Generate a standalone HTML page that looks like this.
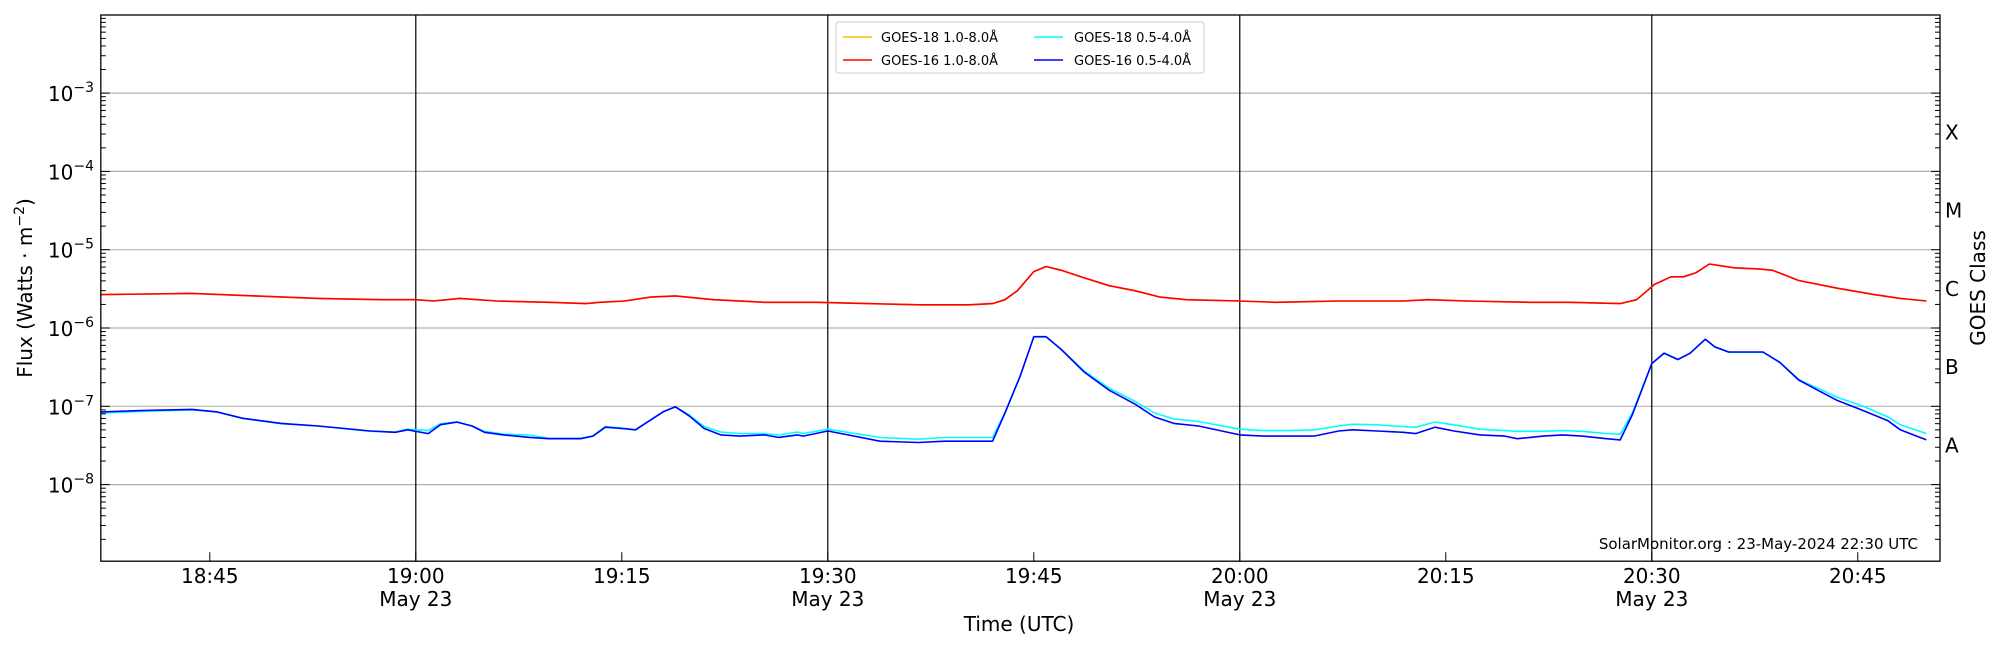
<!DOCTYPE html>
<html><head><meta charset="utf-8"><style>
html,body{margin:0;padding:0;background:#fff;}
svg{display:block;font-family:"DejaVu Sans","Liberation Sans",sans-serif;}
</style></head><body>
<svg id="chart" width="2000" height="650" viewBox="0 0 2000 650" xmlns="http://www.w3.org/2000/svg">
<rect x="0" y="0" width="2000" height="650" fill="#fff"/>
<g id="grid"></g>
<g id="series"></g>
<g id="axes"></g>
<g id="legend">
  <rect x="836" y="22" width="368" height="51" rx="3" fill="#fff" fill-opacity="0.8" stroke="#ccc"/>
  <line x1="843" y1="37" x2="872" y2="37" stroke="#ffc000" stroke-width="1.5"/>
  <text x="881" y="42" font-size="13">GOES-18 1.0-8.0Å</text>
  <line x1="843" y1="60" x2="872" y2="60" stroke="#ff0000" stroke-width="1.5"/>
  <text x="881" y="65" font-size="13">GOES-16 1.0-8.0Å</text>
  <line x1="1034" y1="37" x2="1063" y2="37" stroke="#00ffff" stroke-width="1.5"/>
  <text x="1074" y="42" font-size="13">GOES-18 0.5-4.0Å</text>
  <line x1="1034" y1="60" x2="1063" y2="60" stroke="#0000ff" stroke-width="1.5"/>
  <text x="1074" y="65" font-size="13">GOES-16 0.5-4.0Å</text>
</g>
<text x="1918" y="549" font-size="15" text-anchor="end">SolarMonitor.org : 23-May-2024 22:30 UTC</text>
<text x="1019" y="631" font-size="20" text-anchor="middle">Time (UTC)</text>
<text transform="translate(32,288) rotate(-90)" font-size="20" text-anchor="middle">Flux (Watts · m<tspan dy="-8" font-size="14">−2</tspan><tspan dy="8">)</tspan></text>
<text transform="translate(1985,288) rotate(-90)" font-size="20" text-anchor="middle">GOES Class</text>
</svg>
<script>
// minutes relative to 19:00 UTC
const redTimes = [-22.9,-16.3,-11.7,-7.1,-2.4,0,1.3,3.2,5.9,9.7,12.4,13.4,15.2,17.1,18.9,21.7,25.4,29.2,32.9,36.6,40.3,42.0,42.9,43.8,45.0,45.9,47.0,48.7,50.5,52.4,54.2,56.1,60,62.6,67.2,71.9,73.7,76.5,81.2,84.0,87.7,88.9,90.2,91.4,92.3,93.2,94.2,96.0,97.9,98.8,100.7,103.5,106.2,108.1,110.0];
const goes16Long = [2.67e-6,2.77e-6,2.57e-6,2.39e-6,2.30e-6,2.30e-6,2.21e-6,2.39e-6,2.21e-6,2.13e-6,2.05e-6,2.13e-6,2.21e-6,2.48e-6,2.57e-6,2.30e-6,2.13e-6,2.13e-6,2.05e-6,1.98e-6,1.98e-6,2.05e-6,2.30e-6,2.99e-6,5.25e-6,6.10e-6,5.45e-6,4.35e-6,3.47e-6,2.99e-6,2.48e-6,2.30e-6,2.21e-6,2.13e-6,2.21e-6,2.21e-6,2.30e-6,2.21e-6,2.13e-6,2.13e-6,2.05e-6,2.30e-6,3.60e-6,4.51e-6,4.51e-6,5.05e-6,6.57e-6,5.87e-6,5.65e-6,5.45e-6,4.04e-6,3.22e-6,2.67e-6,2.39e-6,2.21e-6];
const goes18Long = [2.67e-6,2.77e-6,2.57e-6,2.39e-6,2.30e-6,2.30e-6,2.21e-6,2.39e-6,2.21e-6,2.13e-6,2.05e-6,2.13e-6,2.21e-6,2.48e-6,2.57e-6,2.30e-6,2.13e-6,2.13e-6,2.05e-6,1.98e-6,1.98e-6,2.05e-6,2.30e-6,2.99e-6,5.25e-6,6.10e-6,5.45e-6,4.35e-6,3.47e-6,2.99e-6,2.48e-6,2.30e-6,2.21e-6,2.13e-6,2.21e-6,2.21e-6,2.30e-6,2.21e-6,2.13e-6,2.13e-6,2.05e-6,2.30e-6,3.60e-6,4.51e-6,4.51e-6,5.05e-6,6.57e-6,5.87e-6,5.65e-6,5.45e-6,4.04e-6,3.22e-6,2.67e-6,2.39e-6,2.21e-6];
const shortTimes = [-22.9,-20.1,-16.3,-14.5,-12.6,-9.8,-7.1,-3.3,-1.5,-0.6,0.9,1.8,3.0,4.1,5.0,6.4,8.3,9.7,12.0,12.9,13.8,15.0,16.0,18.0,18.9,19.9,21.0,22.2,23.6,25.4,26.4,27.8,28.2,30,31.0,33.8,36.6,38.5,40.3,42.0,42.9,44.0,45.0,45.9,47.0,48.7,50.5,52.4,53.8,55.2,57.0,60,61.7,63.5,65.4,67.2,68.2,70.0,71.9,72.8,74.2,75.6,77.5,79.3,80.2,82.1,83.5,84.9,86.7,87.7,88.6,90.0,90.9,91.9,92.8,93.9,94.6,95.6,98.1,99.3,100.7,102.1,103.5,105.4,107.2,108.1,110.0];
const goes16Short = [8.47e-8,8.81e-8,9.14e-8,8.47e-8,7.03e-8,6.05e-8,5.61e-8,4.83e-8,4.66e-8,5.01e-8,4.48e-8,5.82e-8,6.28e-8,5.61e-8,4.66e-8,4.31e-8,4.01e-8,3.86e-8,3.86e-8,4.16e-8,5.41e-8,5.21e-8,5.01e-8,8.47e-8,9.84e-8,7.57e-8,5.21e-8,4.31e-8,4.16e-8,4.31e-8,4.01e-8,4.31e-8,4.16e-8,4.83e-8,4.48e-8,3.58e-8,3.45e-8,3.58e-8,3.58e-8,3.58e-8,8.16e-8,2.42e-7,7.74e-7,7.74e-7,5.32e-7,2.71e-7,1.60e-7,1.06e-7,7.30e-8,6.05e-8,5.61e-8,4.31e-8,4.16e-8,4.16e-8,4.16e-8,4.83e-8,5.01e-8,4.83e-8,4.66e-8,4.48e-8,5.41e-8,4.83e-8,4.31e-8,4.16e-8,3.86e-8,4.16e-8,4.31e-8,4.16e-8,3.86e-8,3.72e-8,7.87e-8,3.52e-7,4.76e-7,3.95e-7,4.76e-7,7.19e-7,5.74e-7,4.94e-7,4.94e-7,3.66e-7,2.17e-7,1.60e-7,1.19e-7,8.81e-8,6.52e-8,5.01e-8,3.72e-8];
const goes18Short = [8.2e-8,8.6e-8,9.0e-8,8.5e-8,7.0e-8,6.0e-8,5.6e-8,4.8e-8,4.7e-8,5.1e-8,4.9e-8,6.0e-8,6.3e-8,5.6e-8,4.8e-8,4.4e-8,4.3e-8,3.9e-8,3.9e-8,4.2e-8,5.5e-8,5.3e-8,5.0e-8,8.5e-8,9.8e-8,7.8e-8,5.5e-8,4.7e-8,4.5e-8,4.5e-8,4.3e-8,4.7e-8,4.5e-8,5.1e-8,4.8e-8,4.0e-8,3.8e-8,4.0e-8,4.0e-8,4.0e-8,8.3e-8,2.4e-7,7.7e-7,7.7e-7,5.3e-7,2.8e-7,1.7e-7,1.15e-7,8.2e-8,6.9e-8,6.4e-8,5.1e-8,4.9e-8,4.9e-8,5.0e-8,5.6e-8,5.9e-8,5.8e-8,5.5e-8,5.4e-8,6.3e-8,5.8e-8,5.1e-8,4.9e-8,4.8e-8,4.8e-8,4.9e-8,4.8e-8,4.5e-8,4.4e-8,8.3e-8,3.5e-7,4.8e-7,4.0e-7,4.8e-7,7.2e-7,5.7e-7,4.9e-7,4.9e-7,3.7e-7,2.2e-7,1.7e-7,1.3e-7,1.0e-7,7.3e-8,5.8e-8,4.5e-8];
const majorTickMinutes = [-15,0,15,30,45,60,75,90,105];
const majorTickLabels = ["18:45","19:00","19:15","19:30","19:45","20:00","20:15","20:30","20:45"];
const dayLineMinutes = [0,30,60,90];
const yExponents = [-3,-4,-5,-6,-7,-8];
const goesClasses = ["X","M","C","B","A"];
const goesClassFlux = [1e-4,1e-5,1e-6,1e-7,1e-8];

const NS = "http://www.w3.org/2000/svg";
const L = 100.8, R = 1940, T = 15, B = 561.2;
function xs(t){ return 415.8 + t * 13.733; }
function ys(v){ return 14.8 + (-2 - Math.log10(v)) * 78.3; }
function mk(tag, attrs, parent){
  const e = document.createElementNS(NS, tag);
  for (const k in attrs) e.setAttribute(k, attrs[k]);
  parent.appendChild(e); return e;
}
const grid = document.getElementById('grid');
const axes = document.getElementById('axes');
const series = document.getElementById('series');

// horizontal grid
yExponents.forEach(function(ex){
  const y = ys(Math.pow(10, ex));
  const g = mk('line', {x1:L, x2:R, y1:y, y2:y, stroke:'#b0b0b0', 'stroke-width':1.2}, grid);
  
  
});
// day lines
dayLineMinutes.forEach(function(m){
  const x = xs(m);
  const l = mk('line', {x1:x, x2:x, y1:T, y2:B, stroke:'#000', 'stroke-width':1.2}, grid);
  
  
});

function drawSeries(times, vals, color, name){
  const pts = times.map(function(t,i){ return xs(t).toFixed(1) + ',' + ys(vals[i]).toFixed(1); }).join(' ');
  const p = mk('polyline', {points:pts, fill:'none', stroke:color, 'stroke-width':1.6, 'stroke-linejoin':'round'}, series);
  
  
}
drawSeries(redTimes, goes18Long, '#ffc000', 'goes18-long-line');
drawSeries(shortTimes, goes18Short, '#00ffff', 'goes18-short-line');
drawSeries(redTimes, goes16Long, '#ff0000', 'goes16-long-line');
drawSeries(shortTimes, goes16Short, '#0000ff', 'goes16-short-line');

// frame
const frame = mk('rect', {x:L, y:T, width:R-L, height:B-T, fill:'none', stroke:'#000', 'stroke-width':1.3}, axes);



// y ticks (left & right, inward)
for (let ex = -9; ex <= -3; ex++){
  for (let m = 1; m <= 9; m++){
    const v = m * Math.pow(10, ex);
    const y = ys(v);
    if (y < T - 0.5 || y > B + 0.5) continue;
    const len = m === 1 ? 9 : 5;
    const tl = mk('line', {x1:L, x2:L+len, y1:y, y2:y, stroke:'#000', 'stroke-width':1}, axes);
    
    
    const tr = mk('line', {x1:R-len, x2:R, y1:y, y2:y, stroke:'#000', 'stroke-width':1}, axes);
    
    
  }
}
// y labels
yExponents.forEach(function(ex){
  const y = ys(Math.pow(10, ex));
  const t = mk('text', {x:94, y:y+8, 'font-size':20, 'text-anchor':'end'}, axes);
  
  
  t.innerHTML = '10<tspan dy="-9" font-size="14">−' + (-ex) + '</tspan>';
});
// GOES class labels
goesClasses.forEach(function(c, i){
  const y = ys(goesClassFlux[i] * Math.sqrt(10));
  const t = mk('text', {x:1945, y:y+7, 'font-size':20}, axes);
  
  
  t.textContent = c;
});
// x ticks and labels
majorTickMinutes.forEach(function(m, i){
  const x = xs(m);
  const tk = mk('line', {x1:x, x2:x, y1:B, y2:B-9, stroke:'#000', 'stroke-width':1}, axes);
  
  
  const t = mk('text', {x:x, y:583, 'font-size':20, 'text-anchor':'middle'}, axes);
  
  
  t.textContent = majorTickLabels[i];
  if (dayLineMinutes.indexOf(m) >= 0){
    const d = mk('text', {x:x, y:606, 'font-size':20, 'text-anchor':'middle'}, axes);
    
    
    d.textContent = 'May 23';
  }
});
</script>
</body></html>
